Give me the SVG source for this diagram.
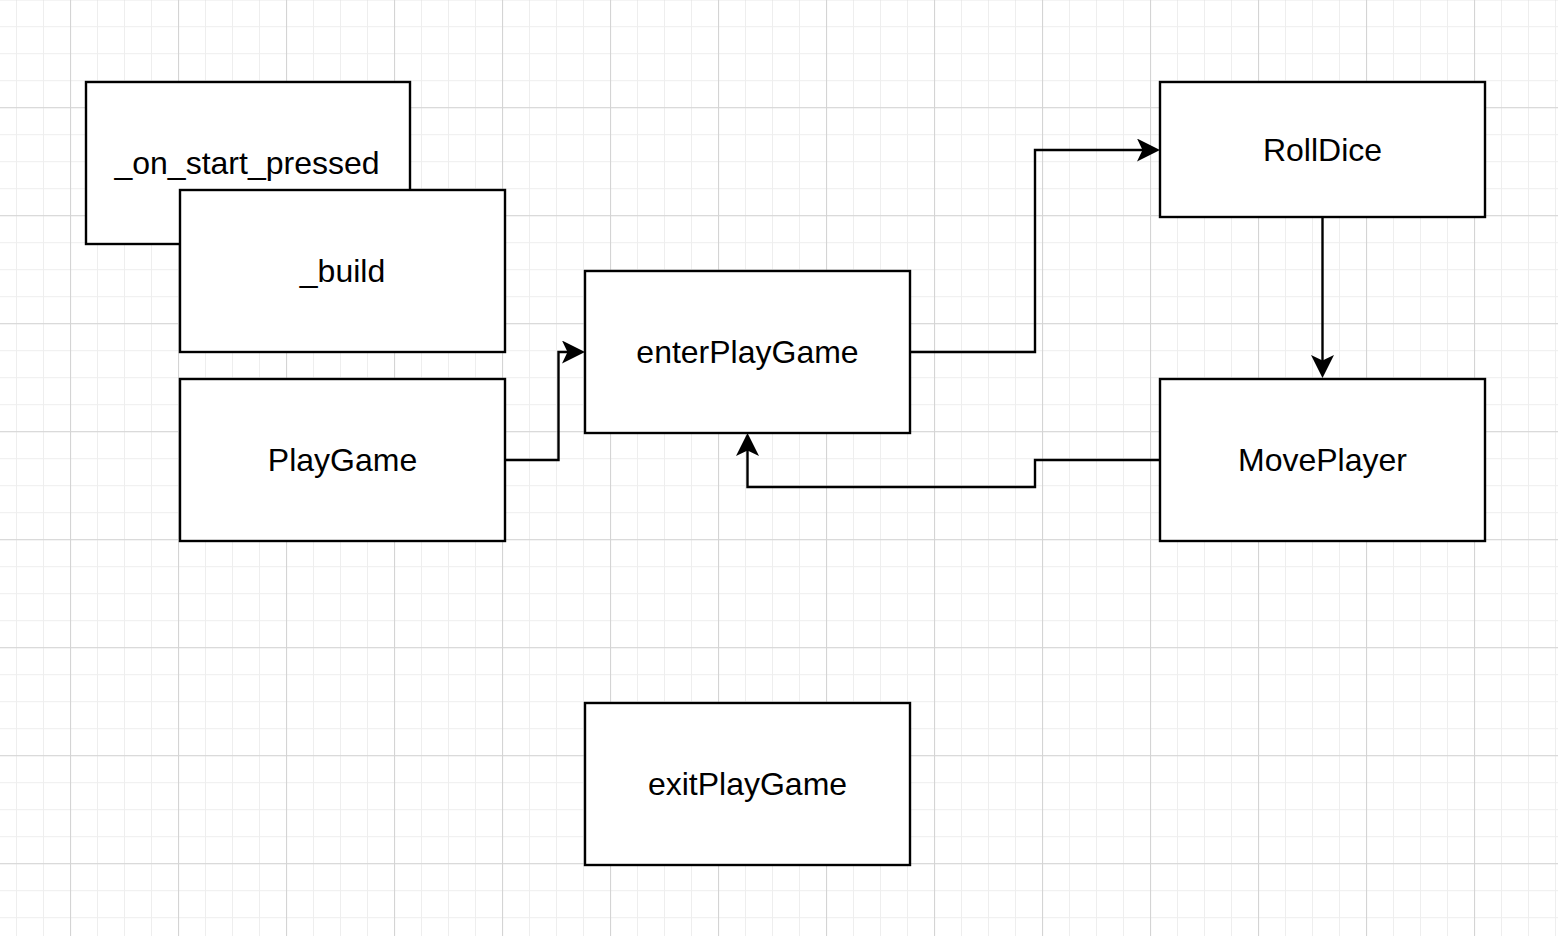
<svg xmlns="http://www.w3.org/2000/svg" width="1558" height="936" viewBox="0 0 1558 936">
  <style>
    .box { fill: #ffffff; stroke: #000000; stroke-width: 2.4; }
    .lbl { font-family: "Liberation Sans", Arial, Helvetica, sans-serif; font-size: 32px; fill: #000000; text-anchor: middle; }
    .edge { fill: none; stroke: #000000; stroke-width: 2.4; }
  </style>
  <defs>
    <pattern id="minor" x="16" y="-0.8" width="27" height="27" patternUnits="userSpaceOnUse">
      <path d="M0.5 0V27M0 0.5H27" stroke="#eeeeee" stroke-width="1" fill="none"/>
    </pattern>
    <pattern id="major" x="70" y="-0.8" width="108" height="108" patternUnits="userSpaceOnUse">
      <path d="M0.5 0V108M0 0.5H108" stroke="#d4d4d4" stroke-width="1.2" fill="none"/>
    </pattern>
    <marker id="arrow" viewBox="0 0 23 23" markerWidth="23" markerHeight="23" refX="17" refY="11.5" orient="auto" markerUnits="userSpaceOnUse">
      <path d="M0 0L23 11.5L0 23L5.5 11.5Z" fill="#000000"/>
    </marker>
  </defs>
  <rect x="0" y="0" width="1558" height="936" fill="#ffffff"/>
  <rect x="0" y="0" width="1558" height="936" fill="url(#minor)"/>
  <rect x="0" y="0" width="1558" height="936" fill="url(#major)"/>

  <g id="node-on-start-pressed">
    <rect class="box" x="86" y="82" width="324" height="162"/>
    <text class="lbl" x="247" y="174">_on_start_pressed</text>
  </g>
  <g id="node-build">
    <rect class="box" x="180" y="190" width="325" height="162"/>
    <text class="lbl" x="342.5" y="282">_build</text>
  </g>
  <g id="node-playgame">
    <rect class="box" x="180" y="379" width="325" height="162"/>
    <text class="lbl" x="342.5" y="471">PlayGame</text>
  </g>
  <g id="node-enterplaygame">
    <rect class="box" x="585" y="271" width="325" height="162"/>
    <text class="lbl" x="747.5" y="363">enterPlayGame</text>
  </g>
  <g id="node-rolldice">
    <rect class="box" x="1160" y="82" width="325" height="135"/>
    <text class="lbl" x="1322.5" y="161">RollDice</text>
  </g>
  <g id="node-moveplayer">
    <rect class="box" x="1160" y="379" width="325" height="162"/>
    <text class="lbl" x="1322.5" y="471">MovePlayer</text>
  </g>
  <g id="node-exitplaygame">
    <rect class="box" x="585" y="703" width="325" height="162"/>
    <text class="lbl" x="747.5" y="795">exitPlayGame</text>
  </g>

  <g id="connectors">
    <path class="edge" d="M505 460H558.5V352H579" marker-end="url(#arrow)"/>
    <path class="edge" d="M910 352H1035V150H1154" marker-end="url(#arrow)"/>
    <path class="edge" d="M1322.5 217V372" marker-end="url(#arrow)"/>
    <path class="edge" d="M1160 460H1035V487H747.5V439" marker-end="url(#arrow)"/>
  </g>
</svg>
